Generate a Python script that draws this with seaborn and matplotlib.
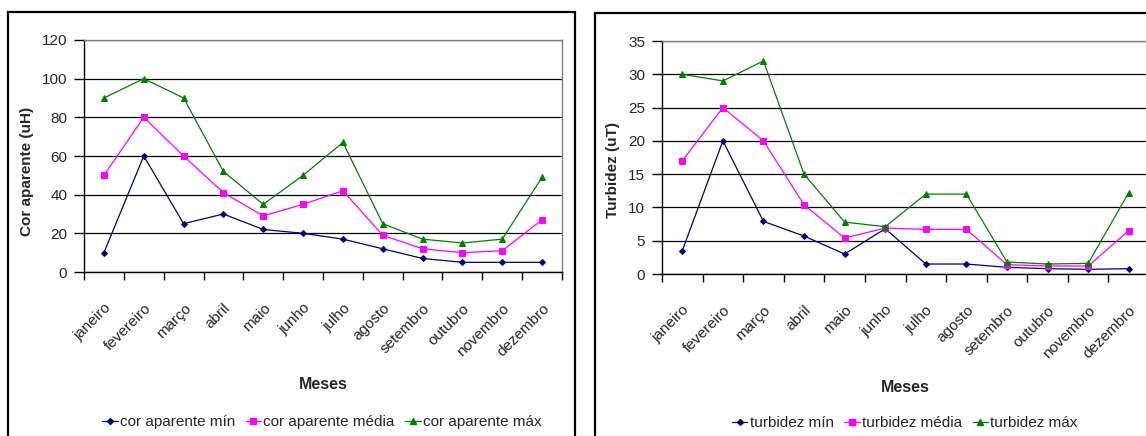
import numpy as np
import pandas as pd
import matplotlib
matplotlib.use("Agg")
import matplotlib.pyplot as plt
from matplotlib.patches import Rectangle
from matplotlib.lines import Line2D
from matplotlib.transforms import ScaledTranslation
import seaborn as sns

meses = ["janeiro", "fevereiro", "março", "abril", "maio", "junho", "julho",
         "agosto", "setembro", "outubro", "novembro", "dezembro"]

cor_min = [10, 60, 25, 30, 22, 20, 17, 12, 7, 5, 5, 5]
cor_media = [50, 80, 60, 41, 29, 35, 42, 19, 12, 10, 11, 27]
cor_max = [90, 100, 90, 52, 35, 50, 67, 25, 17, 15, 17, 49]

turb_min = [3.5, 20, 7.9, 5.7, 3.0, 6.8, 1.5, 1.5, 1.0, 0.8, 0.7, 0.8]
turb_media = [17, 25, 20, 10.4, 5.4, 6.9, 6.7, 6.7, 1.4, 1.2, 1.2, 6.5]
turb_max = [30, 29, 32, 15, 7.8, 7.1, 12, 12, 1.8, 1.5, 1.6, 12.2]

cor_labels = ["cor aparente mín", "cor aparente média", "cor aparente máx"]
turb_labels = ["turbidez mín", "turbidez média", "turbidez máx"]

sns.set_theme(style="white")
plt.rcParams["font.family"] = ["Liberation Sans", "DejaVu Sans"]

colors = ["#000080", "#FF00FF", "#008000"]
markers = ["D", "s", "^"]
msizes = [3.0, 4.8, 4.8]

fig = plt.figure(figsize=(11.46, 4.36), dpi=100)

# panel frames
fig.patches.append(Rectangle((8 / 1146, -0.05), (575 - 8) / 1146, 1 - 12 / 436 + 0.05,
                             transform=fig.transFigure, fill=False, edgecolor="black",
                             linewidth=1.6, zorder=0))
fig.patches.append(Rectangle((595 / 1146, -0.05), 0.6, 1 - 13 / 436 + 0.05,
                             transform=fig.transFigure, fill=False, edgecolor="black",
                             linewidth=1.6, zorder=0))

ax1 = fig.add_axes([84 / 1146, (436 - 272) / 436, 478 / 1146, 232 / 436])
ax2 = fig.add_axes([662 / 1146, (436 - 274) / 436, 487 / 1146, 233 / 436])


def draw(ax, series, labels, ymax, ystep, ylabel, ylab_xy, meses_y, leg_x, leg_y, dx):
    n = len(meses)
    xs = np.arange(n) + 0.5
    for vals, lab, c, m, ms in zip(series, labels, colors, markers, msizes):
        sns.lineplot(x=xs, y=vals, ax=ax, color=c, marker=m, markersize=ms,
                     markeredgecolor=c, linewidth=0.9, label=lab, legend=False)
    ax.set_xlim(0, n)
    ax.set_ylim(0, ymax)
    ax.set_yticks(np.arange(0, ymax + ystep / 2, ystep))
    ax.yaxis.grid(True, color="black", linewidth=0.9)
    ax.xaxis.grid(False)
    ax.set_axisbelow(True)
    ax.set_xticks(np.arange(0, n + 1))
    ax.set_xticklabels([])
    ax.set_xticks(xs, minor=True)
    ax.set_xticklabels(meses, minor=True, rotation=45, ha="right",
                       rotation_mode="anchor", fontsize=11)
    off = ScaledTranslation(dx / 100, 0, fig.dpi_scale_trans)
    for lab in ax.get_xticklabels(minor=True):
        lab.set_transform(lab.get_transform() + off)
    ax.tick_params(axis="x", which="major", direction="out", length=6, width=1,
                   color="black", bottom=True)
    ax.tick_params(axis="x", which="minor", length=0, pad=21, bottom=True)
    ax.tick_params(axis="y", direction="out", length=7, width=1, color="black",
                   left=True, pad=5, labelsize=11)
    for s in ["left", "bottom"]:
        ax.spines[s].set_color("black")
        ax.spines[s].set_linewidth(1.0)
    for s in ["top", "right"]:
        ax.spines[s].set_color("#808080")
        ax.spines[s].set_linewidth(1.0)
    ax.set_ylabel(ylabel, fontsize=11, fontweight="bold")
    ax.yaxis.set_label_coords(*ylab_xy)
    ax.set_xlabel("")
    pos = ax.get_position()
    fig.text(pos.x0 + pos.width / 2, meses_y, "Meses", ha="center", va="center",
             fontsize=11.5, fontweight="bold")
    handles = [Line2D([], [], color=c, marker=m, markersize=ms, markeredgecolor=c,
                      linewidth=0.9) for c, m, ms in zip(colors, markers, msizes)]
    fig.legend(handles, labels, loc="center", bbox_to_anchor=(leg_x, leg_y),
               ncol=3, frameon=False, fontsize=11, handlelength=1.0,
               handletextpad=0.15, columnspacing=0.7, borderaxespad=0)


draw(ax1, [cor_min, cor_media, cor_max], cor_labels, 120, 20, "Cor aparente (uH)",
     (-0.105, 0.435), 1 - 384 / 436, 322 / 1146, 1 - 422 / 436, -7)
draw(ax2, [turb_min, turb_media, turb_max], turb_labels, 35, 5, "Turbidez (uT)",
     (-0.087, 0.448), 1 - 387 / 436, 905 / 1146, 1 - 423 / 436, -6)

fig.savefig("out.png", dpi=100)
